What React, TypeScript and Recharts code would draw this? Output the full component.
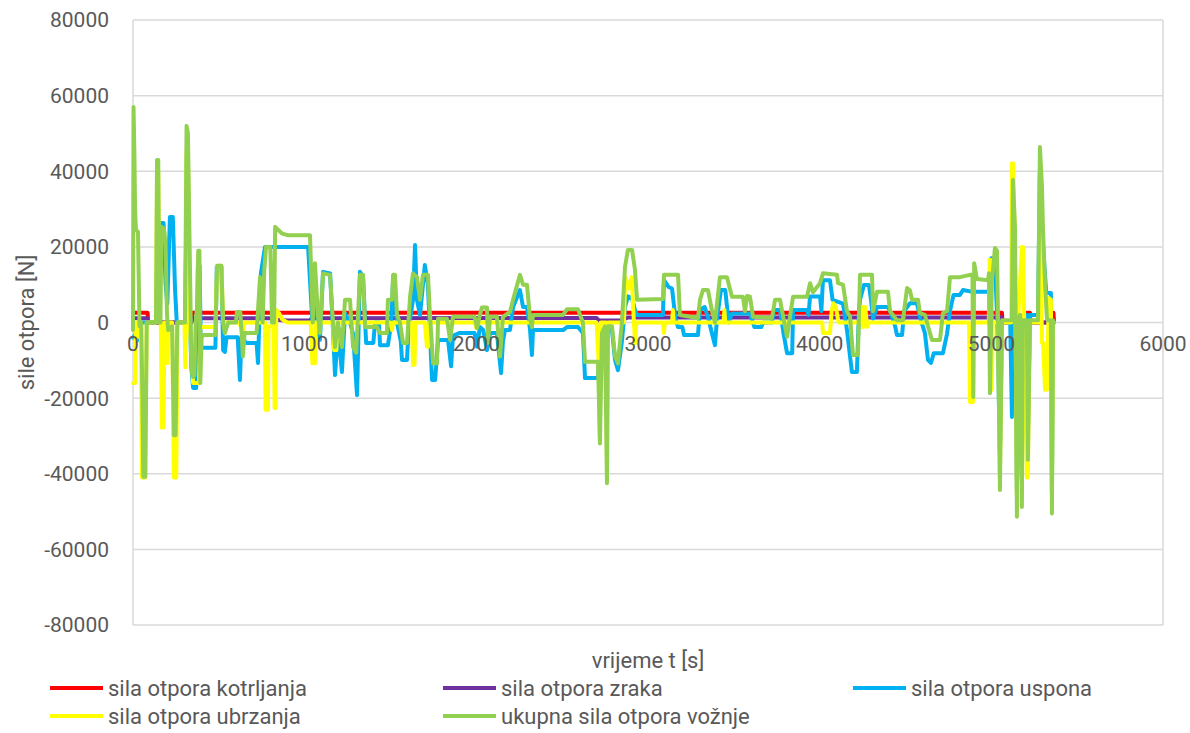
import { LineChart, Line, XAxis, YAxis, CartesianGrid, ReferenceDot } from 'recharts';

// vrijeme t [s] -> sila [N]
const kotrljanja: [number, number][] = [
  [0, 2600], [85, 2600], [88, 0], [340, 0], [345, 2600], [5062, 2600], [5065, 0], [5205, 0],
  [5207, 2600], [5225, 2600], [5228, 0], [5345, 0], [5347, 2600], [5362, 2600], [5365, 0],
];

const zraka: [number, number][] = [
  [0, 1100], [85, 1100], [88, 0], [340, 0], [345, 1100], [800, 1100], [830, 700], [900, 500],
  [1030, 500], [1040, 1100], [2700, 1200], [2715, 500], [2840, 500], [2880, 1300], [5062, 1300],
  [5065, 0], [5365, 0],
];

const uspona: [number, number][] = [
  [0, -4000], [15, -3000], [30, -4600], [40, -3800], [48, 0], [80, 0], [134, 0], [142, 20000],
  [150, 5000], [160, 26300], [178, 26300], [190, 10000], [200, 5000], [215, 27900], [232, 27900],
  [245, 8600], [255, 0], [303, 0], [312, 30000], [325, 10000], [340, -12000], [350, -17300],
  [368, -17300], [372, -7300], [378, 15000], [388, 15000], [395, -6700], [480, -6700], [488, 14700],
  [515, 14700], [525, -7300], [535, -7800], [545, -3900], [610, -3900], [623, -15200], [632, -4000],
  [660, -5400], [720, -5400], [728, -10700], [745, 13000], [769, 20000], [1020, 20000], [1045, 0],
  [1060, 11000], [1078, -2000], [1089, -4600], [1107, 13400], [1148, 13000], [1165, -2000],
  [1177, -13900], [1194, -2000], [1217, -13100], [1235, 2400], [1264, 0], [1282, -3000],
  [1305, -19200], [1322, 13400], [1340, 12000], [1358, -5400], [1400, -5400], [1410, 0], [1433, 0],
  [1439, -6000], [1485, -6000], [1505, 0], [1515, 11200], [1538, 0], [1560, -5000], [1567, -9900],
  [1596, -9900], [1605, -2000], [1631, 6000], [1643, 20500], [1654, 6000], [1672, 2000],
  [1700, 15200], [1718, 10000], [1730, -3000], [1742, -15200], [1760, -15200], [1777, -4600],
  [1835, -4600], [1853, -11600], [1864, -3500], [1900, -2800], [1990, -2800], [2004, -6400],
  [2021, -1200], [2040, -2000], [2062, -7300], [2080, -2800], [2120, -2800], [2144, -13400],
  [2155, -5000], [2167, -2000], [2196, -2000], [2214, 4100], [2254, 8600], [2272, 4100],
  [2295, 4100], [2313, -2000], [2324, -8600], [2330, -2000], [2505, -2000], [2528, -1200],
  [2592, -1200], [2621, -2800], [2633, -14700], [2709, -14700], [2720, -5000], [2735, -2000],
  [2790, -2000], [2808, -9900], [2825, -12600], [2848, -5000], [2866, 4100], [2883, 6900],
  [2907, 6400], [2924, 3300], [2936, 2000], [3087, 2000], [3093, 11200], [3120, 9400], [3140, 9000],
  [3160, 1000], [3175, -1200], [3200, -1200], [3210, -3300], [3291, -3300], [3303, 3300],
  [3330, 4100], [3349, 1500], [3373, -3000], [3390, -6000], [3402, 1000], [3425, 8600], [3450, 8600],
  [3470, 0], [3489, 2400], [3594, 2400], [3620, -1200], [3660, -1200], [3670, 0], [3722, 0],
  [3732, 3300], [3769, 3300], [3790, -3000], [3810, -8100], [3840, -8100], [3845, 3300],
  [3926, 3300], [3935, 2000], [3944, 6900], [4002, 6900], [4010, 3000], [4019, 11200], [4060, 11200],
  [4075, 6000], [4136, 5000], [4159, -2000], [4177, -9000], [4188, -13100], [4217, -13100],
  [4229, 3000], [4235, 6000], [4258, 9900], [4287, 9900], [4299, 6000], [4311, 1000], [4334, 4100],
  [4398, 4100], [4410, 3000], [4440, -1000], [4450, -3300], [4480, -3300], [4492, 3000],
  [4526, 5100], [4567, 5100], [4584, 1500], [4613, -2800], [4631, -9900], [4648, -10700],
  [4665, -8100], [4718, -8100], [4742, -3000], [4759, 3000], [4780, 7300], [4817, 7300],
  [4835, 8600], [4890, 8100], [4990, 8100], [5000, 17000], [5020, 17000], [5035, 0], [5050, -35000],
  [5062, 0], [5110, 0], [5120, -25000], [5126, 20000], [5138, 10000], [5149, -45000], [5155, 0],
  [5178, -42000], [5184, 2000], [5207, 2000], [5213, -30000], [5225, 2000], [5272, 2000],
  [5283, 40000], [5301, 20000], [5320, 7800], [5347, 7800], [5353, -45000], [5359, 0], [5365, 0],
];

const ubrzanja: [number, number][] = [
  [0, -16000], [12, -16000], [17, 0], [25, 0], [38, -3800], [45, 0], [52, -41000], [70, -41000],
  [80, 0], [134, 0], [140, 40000], [147, 40000], [154, 0], [162, 0], [168, -27800], [178, -27800],
  [183, 0], [192, -10700], [200, -10700], [205, 0], [228, 0], [238, -41000], [252, -41000],
  [260, 0], [300, 0], [305, -11800], [312, 45000], [320, 44000], [330, 0], [350, -16000],
  [385, -16000], [392, -1200], [480, -1200], [490, 15000], [515, 15000], [525, 0], [620, 0],
  [640, -3000], [650, 0], [769, 0], [772, -23100], [786, -23100], [790, -1000], [820, -1000],
  [825, -22600], [830, -22600], [835, 3300], [850, 2500], [870, 800], [900, 0], [1035, 0],
  [1045, -10800], [1060, -10800], [1065, 0], [1165, 0], [1172, -7300], [1185, -7300], [1190, 0],
  [1500, 0], [1509, -2000], [1515, 0], [1625, 0], [1631, -11200], [1640, -11200], [1645, 0],
  [1700, 0], [1712, -6400], [1720, -6400], [1725, 0], [1990, 0], [2000, -1500], [2010, 0],
  [2700, 0], [2712, -10000], [2718, -30000], [2725, 0], [2755, 0], [2761, -40000], [2766, 0],
  [2860, 0], [2868, 12000], [2890, 9000], [2905, 12000], [2918, 0], [2925, -5500], [2932, 0],
  [3087, 0], [3093, -2800], [3098, 0], [3140, 0], [3145, 3300], [3150, 0], [3440, 0], [3445, 3300],
  [3450, 0], [4015, 0], [4019, -2800], [4060, -2800], [4070, 3000], [4080, 5100], [4095, 4000],
  [4110, 0], [4240, 0], [4247, 4100], [4253, -1200], [4265, 4100], [4277, -1200], [4285, 0],
  [4870, 0], [4876, -21000], [4893, -21000], [4898, 0], [4985, 0], [4990, 16500], [4998, 16500],
  [5003, -17800], [5008, 0], [5039, 0], [5050, -40000], [5062, 0], [5115, 0], [5120, 42100],
  [5126, 42100], [5138, 20000], [5149, -46000], [5155, 0], [5178, 20000], [5184, 20000],
  [5195, -10000], [5207, -41000], [5213, -41000], [5222, 0], [5275, 0], [5283, 40000],
  [5295, -5400], [5301, -5400], [5313, -17800], [5324, -17800], [5335, 6500], [5347, 6000],
  [5353, -45000], [5359, 0], [5365, 0],
];

const ukupna: [number, number][] = [
  [0, -2000], [3, 57000], [8, 45000], [12, 30000], [17, 24500], [29, 24000], [38, -1000], [48, 0],
  [55, -20000], [60, -40800], [72, -40800], [80, 0], [134, 0], [140, 43000], [147, 43000], [154, 0],
  [160, 0], [165, 25300], [176, 25000], [183, 24000], [190, 20000], [198, 2000], [205, -2000],
  [228, -1000], [238, -29800], [248, -29800], [258, 0], [303, 0], [312, 52000], [320, 50000],
  [328, 26000], [335, 5000], [340, -11800], [350, -14400], [358, -14000], [365, 0], [375, 5000],
  [380, 19000], [387, 19000], [392, -16000], [400, -4000], [410, -3300], [480, -3300], [490, 15000],
  [515, 15000], [525, 0], [535, -2800], [555, 0], [600, 0], [605, 2800], [625, 2800], [633, -2800],
  [640, -9000], [650, -2800], [720, -2800], [740, 12000], [755, 0], [765, 14000], [775, 20000],
  [800, 20000], [810, 0], [822, 0], [828, 25300], [845, 24500], [870, 23500], [900, 23100],
  [1031, 23100], [1047, 0], [1060, 15700], [1078, 1500], [1089, -2800], [1107, 13000],
  [1148, 12600], [1165, 0], [1177, -6500], [1194, 0], [1217, -6500], [1235, 6000], [1264, 6000],
  [1282, -6500], [1300, -8000], [1322, 12600], [1340, 12600], [1352, -1200], [1421, -1200],
  [1439, -2800], [1479, -2800], [1485, 6000], [1509, 6000], [1515, 12600], [1526, 12600],
  [1538, 2000], [1555, 0], [1573, -5400], [1596, -5400], [1614, 6800], [1631, 13000], [1654, 12000],
  [1672, 6000], [1689, 12600], [1718, 12600], [1730, 2000], [1748, -10800], [1771, -10800],
  [1777, 1000], [1829, 1000], [1847, -4600], [1864, 1500], [1990, 1500], [2004, -1500], [2021, 2000],
  [2033, 4000], [2062, 4000], [2068, -5400], [2080, 1500], [2120, 1500], [2138, -9000], [2155, 1500],
  [2196, 2800], [2214, 6000], [2254, 12600], [2272, 10000], [2295, 10000], [2313, 1000],
  [2324, -1200], [2330, 2000], [2505, 2000], [2528, 3500], [2592, 3500], [2621, 0], [2633, -10400],
  [2709, -10400], [2720, -32000], [2732, -2800], [2749, -1000], [2761, -42500], [2767, -1000],
  [2790, -1000], [2808, -9000], [2825, -10800], [2848, 0], [2866, 14700], [2883, 19200],
  [2907, 19200], [2924, 14000], [2936, 6000], [3087, 6200], [3093, 12600], [3175, 12600],
  [3186, 2000], [3291, 1200], [3303, 6000], [3320, 8600], [3349, 8600], [3373, 3000], [3390, 0],
  [3402, 5000], [3419, 12000], [3460, 12000], [3489, 6800], [3553, 6800], [3565, 3000], [3577, 7000],
  [3594, 6800], [3612, 1500], [3722, 1200], [3740, 6000], [3769, 6000], [3810, -3800], [3827, 1500],
  [3845, 6800], [3926, 6800], [3944, 10400], [3961, 8000], [4002, 10400], [4019, 13000],
  [4101, 12600], [4107, 10400], [4136, 10000], [4159, 3000], [4177, 1500], [4194, -8600],
  [4223, -8600], [4235, 12600], [4305, 12600], [4311, 3000], [4334, 8100], [4398, 8100], [4410, 3000],
  [4450, 600], [4485, 600], [4509, 9100], [4526, 8500], [4538, 6000], [4573, 6000], [4584, 2500],
  [4613, 2000], [4631, -1000], [4654, -4600], [4701, -4600], [4718, 2500], [4742, 3000],
  [4759, 12000], [4817, 12000], [4876, 12600], [4890, 12600], [4895, -19700], [4900, 15700],
  [4916, 11500], [4981, 11200], [4986, 13000], [4992, -18700], [5003, 11000], [5010, 14000],
  [5021, 19700], [5033, 19000], [5039, 600], [5050, -44300], [5062, 600], [5120, 600], [5126, 37700],
  [5138, 25000], [5149, -51400], [5155, 0], [5167, 2000], [5178, -48800], [5184, 600], [5207, 600],
  [5213, -36300], [5225, 600], [5272, 600], [5283, 46400], [5295, 36000], [5301, 24500],
  [5313, 10000], [5324, 1000], [5330, 600], [5347, 600], [5353, -50500], [5359, 600], [5365, 0],
];

const xTicks = [0, 1000, 2000, 3000, 4000, 5000, 6000];
const yTicks = [-80000, -60000, -40000, -20000, 0, 20000, 40000, 60000, 80000];

const SERIES = [
  { name: 'sila otpora kotrljanja', color: '#FF0000', points: kotrljanja },
  { name: 'sila otpora zraka', color: '#7030A0', points: zraka },
  { name: 'sila otpora uspona', color: '#00B0F0', points: uspona },
  { name: 'sila otpora ubrzanja', color: '#FFFF00', points: ubrzanja },
  { name: 'ukupna sila otpora vožnje', color: '#92D050', points: ukupna },
];

const TEXT = '#595959';
const GRID = '#d9d9d9';

function LegendBox() {
  return (
    <div style={{
      position: 'absolute', left: 50, top: 676, display: 'grid',
      gridTemplateColumns: '393px 410px 300px', rowGap: 4, fontSize: 22, color: TEXT,
    }}>
      {SERIES.map((s) => (
        <div key={s.name} style={{ display: 'flex', alignItems: 'center', height: 24 }}>
          <span style={{ display: 'inline-block', width: 53, height: 4, background: s.color, marginRight: 5 }} />
          <span style={{ whiteSpace: 'nowrap' }}>{s.name}</span>
        </div>
      ))}
    </div>
  );
}

export default function App() {
  return (
    <div style={{ position: 'absolute', left: 0, top: 0, width: 1190, height: 733, background: '#fff', fontFamily: 'Roboto, sans-serif' }}>
      <LineChart width={1190} height={733} margin={{ top: 20, right: 27, bottom: 38, left: 0 }}>
        <CartesianGrid stroke={GRID} strokeWidth={1.5} />
        <XAxis dataKey="t" type="number" domain={[0, 6000]} ticks={xTicks} tick={false}
               axisLine={false} tickLine={false} height={70}
               label={{ value: 'vrijeme t [s]', position: 'center', fill: TEXT, fontSize: 22 }} />
        <YAxis type="number" domain={[-80000, 80000]} ticks={yTicks} width={133}
               axisLine={false} tickLine={false} tickSize={0} tickMargin={24}
               tick={{ fill: TEXT, fontSize: 21 }}
               label={{ value: 'sile otpora [N]', angle: -90, position: 'insideLeft', offset: 26,
                        fill: TEXT, fontSize: 22, style: { textAnchor: 'middle' } }} />
        {SERIES.map((s) => (
          <Line key={s.name} name={s.name} data={s.points.map(([t, v]) => ({ t, v }))}
                dataKey="v" type="linear" stroke={s.color} strokeWidth={4} dot={false}
                strokeLinejoin="round" strokeLinecap="round" isAnimationActive={false} />
        ))}
        {xTicks.map((t) => (
          <ReferenceDot key={t} x={t} y={0} r={0} fill="none" stroke="none"
                        label={{ value: String(t), position: 'bottom', offset: 14, fill: TEXT, fontSize: 21 }} />
        ))}
      </LineChart>
      <LegendBox />
    </div>
  );
}
